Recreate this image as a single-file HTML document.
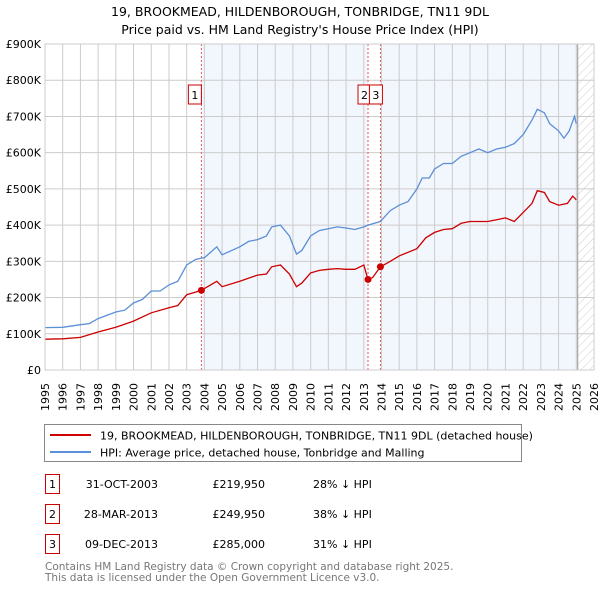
<!DOCTYPE html>
<html><head><meta charset="utf-8"><style>
body{margin:0;background:#fff;font-family:"DejaVu Sans","Liberation Sans",sans-serif;}
svg text{font-family:"DejaVu Sans","Liberation Sans",sans-serif;}
</style></head><body>
<svg id="chart" width="600" height="590" xmlns="http://www.w3.org/2000/svg">
<defs><pattern id="hatch" width="6" height="6" patternUnits="userSpaceOnUse" patternTransform="rotate(45)"><line x1="0" y1="0" x2="0" y2="6" stroke="#ccc" stroke-width="1"/></pattern></defs>
<text x="300" y="16" text-anchor="middle" font-size="12.5">19, BROOKMEAD, HILDENBOROUGH, TONBRIDGE, TN11 9DL</text>
<text x="300" y="34" text-anchor="middle" font-size="12.5">Price paid vs. HM Land Registry's House Price Index (HPI)</text>
<g id="plot"></g>
<g>
<rect x="44.5" y="424.5" width="477" height="37" fill="#fff" stroke="#888"/>
<line x1="50" y1="435" x2="91" y2="435" stroke="#cc0000" stroke-width="2"/>
<text x="100" y="439.5" font-size="11">19, BROOKMEAD, HILDENBOROUGH, TONBRIDGE, TN11 9DL (detached house)</text>
<line x1="50" y1="452" x2="91" y2="452" stroke="#5b8fd6" stroke-width="2"/>
<text x="100" y="456.5" font-size="11">HPI: Average price, detached house, Tonbridge and Malling</text>
</g>
<g font-size="11">
<rect x="45.5" y="474.5" width="14" height="19" fill="#fff" stroke="#cc0000"/><text x="52.5" y="488" text-anchor="middle">1</text>
<text x="158" y="488" text-anchor="end">31-OCT-2003</text><text x="265" y="488" text-anchor="end">£219,950</text><text x="313" y="488">28% ↓ HPI</text>
<rect x="45.5" y="504.5" width="14" height="19" fill="#fff" stroke="#cc0000"/><text x="52.5" y="518" text-anchor="middle">2</text>
<text x="158" y="518" text-anchor="end">28-MAR-2013</text><text x="265" y="518" text-anchor="end">£249,950</text><text x="313" y="518">38% ↓ HPI</text>
<rect x="45.5" y="534.5" width="14" height="19" fill="#fff" stroke="#cc0000"/><text x="52.5" y="548" text-anchor="middle">3</text>
<text x="158" y="548" text-anchor="end">09-DEC-2013</text><text x="265" y="548" text-anchor="end">£285,000</text><text x="313" y="548">31% ↓ HPI</text>
</g>
<text x="45" y="570" font-size="10.5" fill="#777">Contains HM Land Registry data © Crown copyright and database right 2025.</text>
<text x="45" y="581" font-size="10.5" fill="#777">This data is licensed under the Open Government Licence v3.0.</text>
</svg>
<script>
const years=[1995,1996,1997,1998,1999,2000,2001,2002,2003,2004,2005,2006,2007,2008,2009,2010,2011,2012,2013,2014,2015,2016,2017,2018,2019,2020,2021,2022,2023,2024,2025,2026];
const yTicks=[0,100000,200000,300000,400000,500000,600000,700000,800000,900000];
const yTickLabels=["£0","£100K","£200K","£300K","£400K","£500K","£600K","£700K","£800K","£900K"];
const hpiDates=[1995,1996,1997,1997.5,1998,1999,1999.5,2000,2000.5,2001,2001.5,2002,2002.5,2003,2003.5,2003.83,2004,2004.7,2005,2006,2006.5,2007,2007.5,2007.8,2008.3,2008.8,2009.2,2009.5,2010,2010.5,2011,2011.5,2012,2012.5,2013,2013.24,2013.94,2014.5,2015,2015.5,2016,2016.3,2016.7,2017,2017.5,2018,2018.5,2019,2019.5,2020,2020.5,2021,2021.5,2022,2022.5,2022.8,2023.2,2023.5,2024,2024.3,2024.6,2024.9,2025];
const hpiValues=[117000,118000,125000,128000,142000,160000,165000,185000,195000,218000,218000,235000,245000,290000,305000,309000,310000,340000,318000,340000,355000,360000,370000,395000,400000,370000,320000,330000,370000,385000,390000,395000,392000,388000,395000,400000,410000,440000,455000,465000,500000,530000,530000,555000,570000,570000,590000,600000,610000,600000,610000,615000,625000,650000,690000,720000,710000,680000,660000,640000,660000,700000,680000];
const redDates=[1995,1996,1997,1998,1999,2000,2001,2002,2002.5,2003,2003.5,2003.83,2004.7,2005,2006,2007,2007.5,2007.8,2008.3,2008.8,2009.2,2009.5,2010,2010.5,2011,2011.5,2012,2012.5,2013,2013.24,2013.5,2013.94,2014.5,2015,2016,2016.5,2017,2017.5,2018,2018.5,2019,2020,2020.5,2021,2021.5,2022,2022.5,2022.8,2023.2,2023.5,2024,2024.5,2024.8,2025];
const redValues=[85000,86000,90000,105000,118000,135000,158000,172000,178000,208000,215000,219950,245000,230000,245000,262000,265000,285000,290000,265000,230000,240000,268000,275000,278000,280000,278000,278000,290000,249950,255000,285000,300000,315000,335000,365000,380000,388000,390000,405000,410000,410000,415000,420000,410000,435000,460000,495000,490000,465000,455000,460000,480000,470000];
const saleDates=[2003.83,2013.24,2013.94];
const salePrices=[219950,249950,285000];
const saleLabels=["1","2","3"];

const X0=45,X1=594,Y0=370,Y1=44;
const xs=y=>X0+(y-1995)/(2026-1995)*(X1-X0);
const ys=v=>Y0-v/900000*(Y0-Y1);
const NS="http://www.w3.org/2000/svg";
const g=document.getElementById('plot');
function mk(t,a,p){const e=document.createElementNS(NS,t);for(const k in a)e.setAttribute(k,a[k]);(p||g).appendChild(e);return e;}

let r=mk('rect',{x:xs(saleDates[0]),y:Y1,width:xs(saleDates[1])-xs(saleDates[0]),height:Y0-Y1,fill:'#f2f6fd'});


r=mk('rect',{x:xs(saleDates[2]),y:Y1,width:xs(2025.08)-xs(saleDates[2]),height:Y0-Y1,fill:'#f2f6fd'});


r=mk('rect',{x:xs(2025.08),y:Y1,width:X1-xs(2025.08),height:Y0-Y1,fill:'url(#hatch)'});



yTicks.forEach((v,i)=>{
 const l=mk('line',{x1:X0,x2:X1,y1:ys(v),y2:ys(v),stroke:'#ccc'});
 
 
 const t=mk('text',{x:X0-4,y:ys(v)+4,'text-anchor':'end','font-size':'11'});
 t.textContent=yTickLabels[i];
 
 
});
years.forEach(yr=>{
 const l=mk('line',{x1:xs(yr),x2:xs(yr),y1:Y1,y2:Y0,stroke:'#ccc'});
 
 
 const t=mk('text',{x:0,y:0,'text-anchor':'end','font-size':'11',transform:`translate(${xs(yr)+4},${Y0+13}) rotate(-90)`});
 t.textContent=yr;
 
 
});
const ln=mk('line',{x1:xs(2025.08),x2:xs(2025.08),y1:Y1,y2:Y0,stroke:'#999'});



saleDates.forEach((d,i)=>{
 const l=mk('line',{x1:xs(d),x2:xs(d),y1:Y1,y2:Y0,stroke:'#ee5555','stroke-dasharray':'2,2'});
 
 
});

function path(ds,vs,col,name){
 const p=mk('path',{d:ds.map((d,i)=>(i?'L':'M')+xs(d).toFixed(1)+','+ys(vs[i]).toFixed(1)).join(''),fill:'none',stroke:col,'stroke-width':1.3});
 
 
}
path(hpiDates,hpiValues,'#5b8fd6','hpi-line');
path(redDates,redValues,'#cc0000','price-paid-line');

saleDates.forEach((d,i)=>{
 const c=mk('circle',{cx:xs(d),cy:ys(salePrices[i]),r:3.5,fill:'#cc0000'});
 
 
});
const boxX=[xs(saleDates[0])-13,xs(saleDates[1])-10,xs(saleDates[2])-11];
saleLabels.forEach((s,i)=>{
 const b=mk('rect',{x:boxX[i],y:85,width:13,height:19,fill:'#fff',stroke:'#cc0000'});
 
 
 const t=mk('text',{x:boxX[i]+6.5,y:99,'text-anchor':'middle','font-size':'11'});
 t.textContent=s;
 
 
});
const fr=mk('rect',{x:X0,y:Y1,width:X1-X0,height:Y0-Y1,fill:'none',stroke:'#ccc'});


</script>
</body></html>
